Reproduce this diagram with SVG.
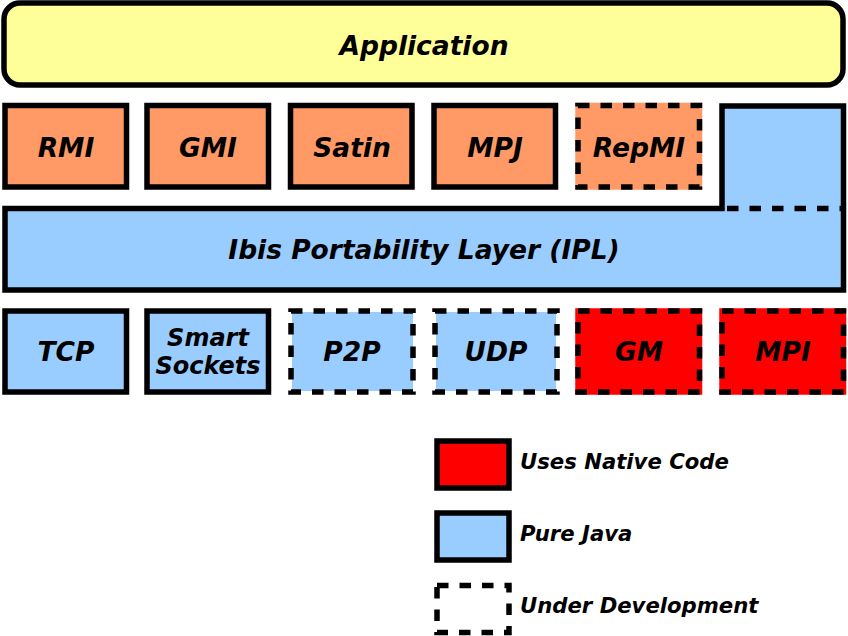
<svg xmlns="http://www.w3.org/2000/svg" width="848" height="636" viewBox="0 0 848 636">
<style>
.b{stroke:#000;stroke-width:5.5}
.d{stroke-dasharray:11.5 11}
.t{font-family:"DejaVu Sans",sans-serif;font-weight:bold;font-style:italic;font-size:26.5px;text-anchor:middle;fill:#000}
.s{font-size:24px}
.l{font-family:"DejaVu Sans",sans-serif;font-weight:bold;font-style:italic;font-size:21.2px;fill:#000}
.y{fill:#ffff99}.o{fill:#ff9966}.u{fill:#99ccff}.r{fill:#ff0000}
</style>
<g id="application"><rect x="4" y="3" width="839" height="82" rx="16" class="b y"/><text x="424" y="54.5" class="t">Application</text></g>
<g id="rmi"><rect x="5" y="105.5" width="121.5" height="81.5" class="b o"/><text x="66" y="156.5" class="t">RMI</text></g>
<g id="gmi"><rect x="147" y="105.5" width="121.5" height="81.5" class="b o"/><text x="208" y="156.5" class="t">GMI</text></g>
<g id="satin"><rect x="290.5" y="105.5" width="121.5" height="81.5" class="b o"/><text x="352" y="156.5" class="t">Satin</text></g>
<g id="mpj"><rect x="434" y="105.5" width="121.5" height="81.5" class="b o"/><text x="495" y="156.5" class="t">MPJ</text></g>
<g id="repmi"><rect x="578" y="105.5" width="121.5" height="81.5" fill="#ff9966" stroke="#ff9966" stroke-width="5.5"/><rect x="578" y="105.5" width="121.5" height="81.5" fill="none" class="b d"/><text x="639" y="156.5" class="t">RepMI</text></g>
<g id="ipl">
<path d="M5 208.5 H722 V106 H843.5 V290 H5 Z" class="b u" stroke-linejoin="miter"/>
<line x1="725" y1="208.5" x2="841" y2="208.5" stroke="#99ccff" stroke-width="6"/>
<line x1="722" y1="208.5" x2="843" y2="208.5" class="b d" stroke-dashoffset="-5"/>
<text x="424" y="258.5" class="t">Ibis Portability Layer (IPL)</text></g>
<g id="tcp"><rect x="5" y="311" width="121.5" height="81" class="b u"/><text x="66" y="360.5" class="t">TCP</text></g>
<g id="smartsockets"><rect x="147" y="311" width="121.5" height="81" class="b u"/><text x="208" y="346" class="t s">Smart</text><text x="208" y="374" class="t s">Sockets</text></g>
<g id="p2p"><rect x="292" y="312" width="121" height="79" class="u"/><rect x="291" y="311" width="122" height="81" fill="none" class="b d"/><text x="352" y="360.5" class="t">P2P</text></g>
<g id="udp"><rect x="436" y="312" width="120" height="79" class="u"/><rect x="435" y="311" width="122" height="81" fill="none" class="b d"/><text x="496" y="360.5" class="t">UDP</text></g>
<g id="gm"><rect x="578" y="311" width="121.5" height="81" fill="#ff0000" stroke="#ff0000" stroke-width="5.5"/><rect x="578" y="311" width="121.5" height="81" fill="none" class="b d"/><text x="639" y="360.5" class="t">GM</text></g>
<g id="mpi"><rect x="722" y="311" width="121.5" height="81" fill="#ff0000" stroke="#ff0000" stroke-width="5.5"/><rect x="722" y="311" width="121.5" height="81" fill="none" class="b d"/><text x="783" y="360.5" class="t">MPI</text></g>
<g id="legend-native"><rect x="437" y="441" width="72" height="47" class="b r"/><text x="520" y="468.5" class="l">Uses Native Code</text></g>
<g id="legend-java"><rect x="437" y="513" width="72" height="47" class="b u"/><text x="520" y="540.5" class="l">Pure Java</text></g>
<g id="legend-dev"><rect x="437" y="585.5" width="72" height="47" fill="none" class="b d"/><text x="520" y="612.5" class="l">Under Development</text></g>
<g id="connectors"/>
</svg>
